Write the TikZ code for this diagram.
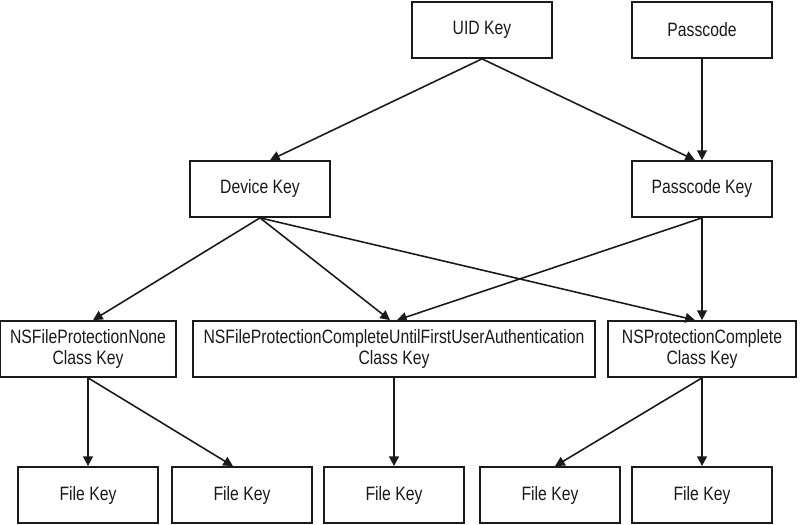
\documentclass[tikz,border=0pt]{standalone}
\usepackage{fontspec}
\setmainfont{Liberation Sans}[FakeStretch=0.815]
\usetikzlibrary{arrows.meta}
\definecolor{kcInk}{HTML}{1A1A1A}
\tikzset{
  keybox/.style={
    draw=kcInk, line width=1pt, fill=white, align=center,
    font=\fontsize{11}{12.2}\selectfont, text=kcInk,
    minimum width=2.8cm, minimum height=1.12cm, inner sep=2pt
  },
  classbox/.style={keybox},
  derive/.style={-{Triangle[length=5.5pt,width=5.5pt]}, line width=0.9pt, draw=kcInk},
}

\begin{document}
\begin{tikzpicture}
  \useasboundingbox (0,0) rectangle (16,-10.48);

  % sources
  \node[keybox] (uid)  at (9.64,-0.60)  {UID Key};
  \node[keybox] (pass) at (14.04,-0.60) {Passcode};

  % derived keys
  \node[keybox] (dev)   at (5.20,-3.78)  {Device Key};
  \node[keybox] (passk) at (14.04,-3.78) {Passcode Key};

  % class keys
  \node[classbox, minimum width=3.52cm] (none) at (1.76,-6.98)
    {NSFileProtectionNone\\Class Key};
  \node[classbox, minimum width=8.04cm] (cufua) at (7.88,-6.98)
    {NSFileProtectionCompleteUntilFirstUserAuthentication\\Class Key};
  \node[classbox, minimum width=3.76cm] (comp) at (14.04,-6.98)
    {NSProtectionComplete\\Class Key};

  % file keys
  \node[keybox] (fk1) at (1.76,-9.90)  {File Key};
  \node[keybox] (fk2) at (4.84,-9.90)  {File Key};
  \node[keybox] (fk3) at (7.88,-9.90)  {File Key};
  \node[keybox] (fk4) at (11.00,-9.90) {File Key};
  \node[keybox] (fk5) at (14.04,-9.90) {File Key};

  \draw[derive] (uid.south) -- ([xshift=0.2cm]dev.north);
  \draw[derive] (uid.south) -- ([xshift=-0.14cm]passk.north);
  \draw[derive] (pass) -- (passk);

  \draw[derive] (dev.south) -- ([xshift=0.1cm]none.north);
  \draw[derive] (dev.south) -- ([xshift=-0.08cm]cufua.north);
  \draw[derive] (dev.south) -- ([xshift=-0.14cm]comp.north);
  \draw[derive] (passk.south) -- ([xshift=0.06cm]cufua.north);
  \draw[derive] (passk) -- (comp);

  \draw[derive] (none) -- (fk1);
  \draw[derive] (none.south) -- ([xshift=-0.18cm]fk2.north);
  \draw[derive] (cufua) -- (fk3);
  \draw[derive] (comp.south) -- ([xshift=0.1cm]fk4.north);
  \draw[derive] (comp) -- (fk5);
\end{tikzpicture}
\end{document}
